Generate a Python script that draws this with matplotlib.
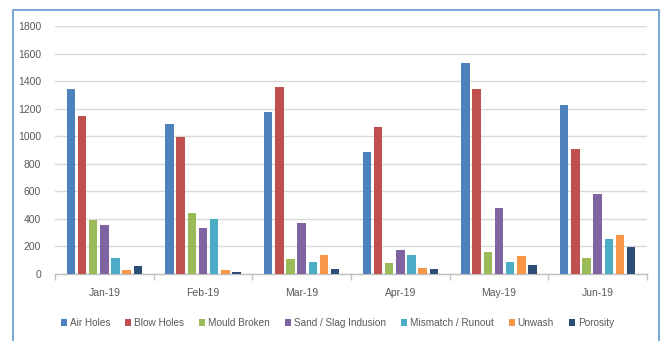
import matplotlib.pyplot as plt
import numpy as np
from matplotlib.patches import Rectangle

months = ['Jan-19', 'Feb-19', 'Mar-19', 'Apr-19', 'May-19', 'Jun-19']

air_holes = [1340, 1090, 1175, 888, 1530, 1230]
blow_holes = [1145, 992, 1355, 1064, 1340, 905]
mould_broken = [392, 440, 106, 77, 160, 116]
sand_slag = [356, 336, 372, 177, 477, 580]
mismatch = [114, 399, 85, 138, 89, 252]
unwash = [30, 29, 138, 46, 133, 281]
porosity = [58, 12, 36, 34, 68, 198]

series_names = ['Air Holes', 'Blow Holes', 'Mould Broken', 'Sand / Slag Indusion',
                'Mismatch / Runout', 'Unwash', 'Porosity']
series_values = [air_holes, blow_holes, mould_broken, sand_slag, mismatch, unwash, porosity]
colors = ['#4F81BD', '#C0504D', '#9BBB59', '#8064A2', '#4BACC6', '#F79646', '#2C4D75']

plt.rcParams['font.family'] = ['Liberation Sans', 'DejaVu Sans']
text_color = '#595959'

fig = plt.figure(figsize=(6.64, 3.41), dpi=100)
ax = fig.add_axes([55 / 664, 67 / 341, 592 / 664, 248 / 341])

x = np.arange(len(months))
slot = 0.113
bar_w = 0.086
for i, (name, vals, col) in enumerate(zip(series_names, series_values, colors)):
    offset = (i - 3) * slot
    ax.bar(x + offset, vals, width=bar_w, color=col, label=name, zorder=3)

ax.set_xlim(-0.5, len(months) - 0.5)
ax.set_ylim(0, 1800)
ax.set_yticks(range(0, 1801, 200))
ax.yaxis.grid(True, color='#d9d9d9', linewidth=1, zorder=0)
for side in ['top', 'right', 'left']:
    ax.spines[side].set_visible(False)
ax.spines['bottom'].set_color('#bfbfbf')
ax.spines['bottom'].set_linewidth(1)

# category labels in the middle, divider ticks between groups
ax.set_xticks(x)
ax.set_xticklabels(months)
ax.tick_params(axis='x', length=0, pad=10, labelsize=7.5, labelcolor=text_color)
ax.set_xticks(np.arange(-0.5, len(months)), minor=True)
ax.tick_params(axis='x', which='minor', length=4, color='#bfbfbf', width=1)
ax.tick_params(axis='y', length=0, pad=10, labelsize=7.5, labelcolor=text_color)

leg = fig.legend(loc='center', bbox_to_anchor=(0.508, 1 - 323 / 341), ncol=7, frameon=False,
                 fontsize=7.2, handlelength=0.6, handleheight=0.6, handletextpad=0.3,
                 columnspacing=1.5, labelcolor=text_color)

# outer chart border
fig.patches.append(Rectangle((13 / 664, -0.05), 646 / 664, 1.05 - 10 / 341,
                             transform=fig.transFigure, fill=False,
                             edgecolor='#6F9FD8', linewidth=1.3))

fig.savefig('out.png', dpi=100)
